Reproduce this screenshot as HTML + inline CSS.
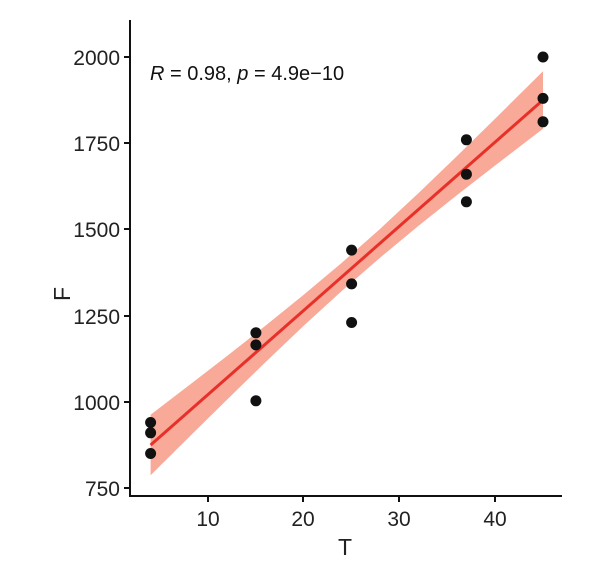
<!DOCTYPE html>
<html><head><meta charset="utf-8"><style>
html,body{margin:0;padding:0;background:#fff;}
svg{display:block;font-family:"Liberation Sans",sans-serif;}
</style></head><body>
<svg width="612" height="564" viewBox="0 0 612 564">
<polygon fill="#f7a08c" opacity="0.9" points="150.6,414.8 188.9,385.4 227.2,355.9 265.4,325.8 303.7,294.8 342.0,262.6 380.3,228.7 418.6,193.0 456.8,156.3 495.1,118.7 543.0,71.3 543.0,128.7 495.1,165.5 456.8,195.3 418.6,225.8 380.3,257.5 342.0,290.8 303.7,325.8 265.4,362.2 227.2,399.5 188.9,437.2 150.6,475.2"/>
<line x1="150.6" y1="445" x2="543" y2="100" stroke="#e8302a" stroke-width="3"/>
<g fill="#111">
<circle cx="150.6" cy="422.5" r="5.5"/><circle cx="150.6" cy="432.8" r="5.5"/><circle cx="150.6" cy="453.5" r="5.5"/>
<circle cx="255.9" cy="332.8" r="5.5"/><circle cx="255.9" cy="344.9" r="5.5"/><circle cx="255.9" cy="400.8" r="5.5"/>
<circle cx="351.6" cy="250.1" r="5.5"/><circle cx="351.6" cy="283.9" r="5.5"/><circle cx="351.6" cy="322.5" r="5.5"/>
<circle cx="466.4" cy="139.8" r="5.5"/><circle cx="466.4" cy="174.2" r="5.5"/><circle cx="466.4" cy="201.8" r="5.5"/>
<circle cx="543" cy="57" r="5.5"/><circle cx="543" cy="98.4" r="5.5"/><circle cx="543" cy="121.8" r="5.5"/>
</g>
<line x1="130" y1="20" x2="130" y2="497" stroke="#111" stroke-width="2"/>
<line x1="129" y1="496" x2="562" y2="496" stroke="#111" stroke-width="2"/>
<g stroke="#111" stroke-width="2">
<line x1="124" y1="57" x2="130" y2="57"/><line x1="124" y1="143" x2="130" y2="143"/>
<line x1="124" y1="229" x2="130" y2="229"/><line x1="124" y1="316" x2="130" y2="316"/>
<line x1="124" y1="402" x2="130" y2="402"/><line x1="124" y1="488" x2="130" y2="488"/>
<line x1="208" y1="496" x2="208" y2="502"/><line x1="303" y1="496" x2="303" y2="502"/>
<line x1="399" y1="496" x2="399" y2="502"/><line x1="495" y1="496" x2="495" y2="502"/>
</g>
<g font-size="21" fill="#222" text-anchor="end">
<text x="120" y="65">2000</text><text x="120" y="151">1750</text>
<text x="120" y="237">1500</text><text x="120" y="324">1250</text>
<text x="120" y="410">1000</text><text x="120" y="496">750</text>
</g>
<g font-size="21" fill="#222" text-anchor="middle">
<text x="208" y="526">10</text><text x="303" y="526">20</text>
<text x="399" y="526">30</text><text x="495" y="526">40</text>
<text x="345" y="555" font-size="23">T</text>
</g>
<text x="70" y="294" font-size="23" fill="#222" text-anchor="middle" transform="rotate(-90 70 294)">F</text>
<text x="150" y="80" font-size="20" fill="#111"><tspan font-style="italic">R</tspan> = 0.98, <tspan font-style="italic">p</tspan> = 4.9e−10</text>
</svg>
</body></html>
